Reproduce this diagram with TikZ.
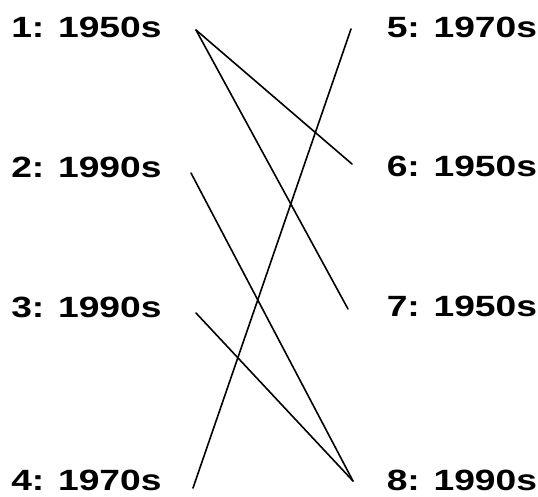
\documentclass[tikz,border=0pt]{standalone}
\usepackage{fontspec}
\setmainfont{Liberation Sans}
\begin{document}
\begin{tikzpicture}[x=1pt,y=-1pt,
  lab/.style={inner sep=0pt, font=\fontsize{29.3}{30}\selectfont\bfseries, xscale=1.27},
  link/.style={line width=1.6pt, line cap=round}]
\useasboundingbox (0,0) rectangle (538,496);
\node[lab, anchor=base west] (l1) at (11,37) {1: 1950s};
\node[lab, anchor=base west] (l2) at (11,177) {2: 1990s};
\node[lab, anchor=base west] (l3) at (11,317) {3: 1990s};
\node[lab, anchor=base west] (l4) at (11,490) {4: 1970s};
\node[lab, anchor=base west] (r5) at (386.5,37) {5: 1970s};
\node[lab, anchor=base west] (r6) at (386.5,176) {6: 1950s};
\node[lab, anchor=base west] (r7) at (386.5,316) {7: 1950s};
\node[lab, anchor=base west] (r8) at (386.5,490) {8: 1990s};
\coordinate (p1) at (196,30);
\coordinate (p2) at (191,173);
\coordinate (p3) at (196,313);
\coordinate (p4) at (193,488);
\coordinate (p5) at (351,29);
\coordinate (p6) at (352,164);
\coordinate (p7) at (348,309);
\coordinate (p8) at (353,481);
\draw[link] (p1) -- (p6);
\draw[link] (p1) -- (p7);
\draw[link] (p2) -- (p8);
\draw[link] (p3) -- (p8);
\draw[link] (p4) -- (p5);
\end{tikzpicture}
\end{document}
